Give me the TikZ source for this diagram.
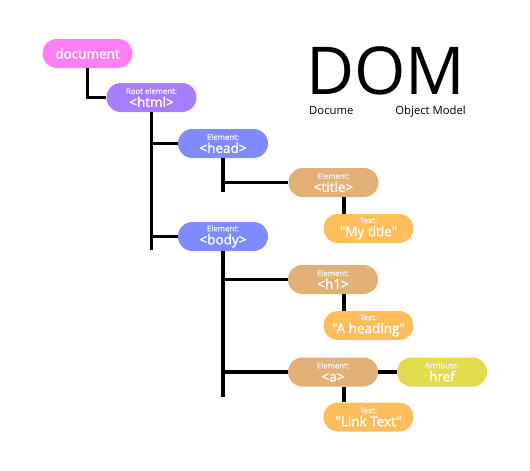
\documentclass[tikz,border=0pt]{standalone}
\usepackage{fontspec}
\setmainfont{Open Sans}
\newfontfamily\pillfont{Open Sans}[FakeBold=1.4]
\usepackage{tikz}

\definecolor{docpink}{HTML}{FF80F2}
\definecolor{rootpurple}{HTML}{A97DFC}
\definecolor{elemblue}{HTML}{7F8CFF}
\definecolor{tagtan}{HTML}{E3B077}
\definecolor{textorange}{HTML}{FFBD5C}
\definecolor{attryellow}{HTML}{E2DB4C}
\newcommand\kindlabel[1]{{\fontsize{7.8}{8}\selectfont\color{white!92!gray} #1}}

\begin{document}
\begin{tikzpicture}[x=1pt,y=-1pt,
  pill/.style={rounded corners=14.5pt,minimum width=90pt,minimum height=29pt,
    inner sep=0pt,text=white,align=center,font=\pillfont\fontsize{13.5}{13}\selectfont},
  tree/.style={line width=3.3pt}]
\useasboundingbox (0,0) rectangle (530,471);

    \node[pill,fill=docpink] (document) at (87.5,53.5) {document};
    \node[pill,fill=rootpurple] (html) at (151.5,97.5) {\kindlabel{Root element:}\\[0pt]<html>};
    \node[pill,fill=elemblue] (head) at (223,143.5) {\kindlabel{Element:}\\[0pt]<head>};
    \node[pill,fill=elemblue] (body) at (223,236.5) {\kindlabel{Element:}\\[0pt]<body>};
    \node[pill,fill=tagtan] (title) at (333.5,182.5) {\kindlabel{Element:}\\[0pt]<title>};
    \node[pill,fill=textorange] (mytitle) at (368.5,228.5) {\kindlabel{Text:}\\[0pt]"My title"};
    \node[pill,fill=tagtan] (hone) at (333,279.5) {\kindlabel{Element:}\\[0pt]<h1>};
    \node[pill,fill=textorange] (heading) at (368.5,325.5) {\kindlabel{Text:}\\[0pt]"A heading"};
    \node[pill,fill=tagtan] (anchor) at (333,372) {\kindlabel{Element:}\\[0pt]<a>};
    \node[pill,fill=attryellow] (href) at (442,372) {\kindlabel{Attribute:}\\[0pt]href};
    \node[pill,fill=textorange] (linktext) at (368.5,417) {\kindlabel{Text:}\\[0pt]"Link Text"};

    \coordinate (htmlend) at (151.5,250);
    \coordinate (headend) at (223,192);
    \coordinate (bodyend) at (223,397);
    \draw[tree] (document.south) |- (html.west);
    \draw[tree] (html.south) -- (htmlend);
    \draw[tree] (html.south |- head) -- (head.west);
    \draw[tree] (html.south |- body) -- (body.west);
    \draw[tree] (head.south) -- (headend);
    \draw[tree] (head.south |- title) -- (title.west);
    \draw[tree] ([xshift=10.5pt]title.south) -- ([xshift=10.5pt]title.south |- mytitle.north);
    \draw[tree] (body.south) -- (bodyend);
    \draw[tree] (body.south |- hone) -- (hone.west);
    \draw[tree] (body.south |- anchor) -- (anchor.west);
    \draw[tree] ([xshift=11pt]hone.south) -- ([xshift=11pt]hone.south |- heading.north);
    \draw[tree] ([xshift=11pt]anchor.south) -- ([xshift=11pt]anchor.south |- linktext.north);
    \draw[tree] (anchor.east) -- (href.west);

    \node[anchor=base west,inner sep=0pt,text depth=0pt,font=\fontsize{66}{66}\selectfont] (dom) at (306,94) {DOM};
    \node[anchor=base west,inner sep=0pt,font=\fontsize{11.3}{12}\selectfont] (subleft) at (309,114) {Document};
    \node[anchor=base east,inner sep=0pt,font=\fontsize{11.3}{12}\selectfont] (subright) at (466,114) {Object Model};
    \fill[white] (354,100) rectangle (396,118);
\end{tikzpicture}
\end{document}
